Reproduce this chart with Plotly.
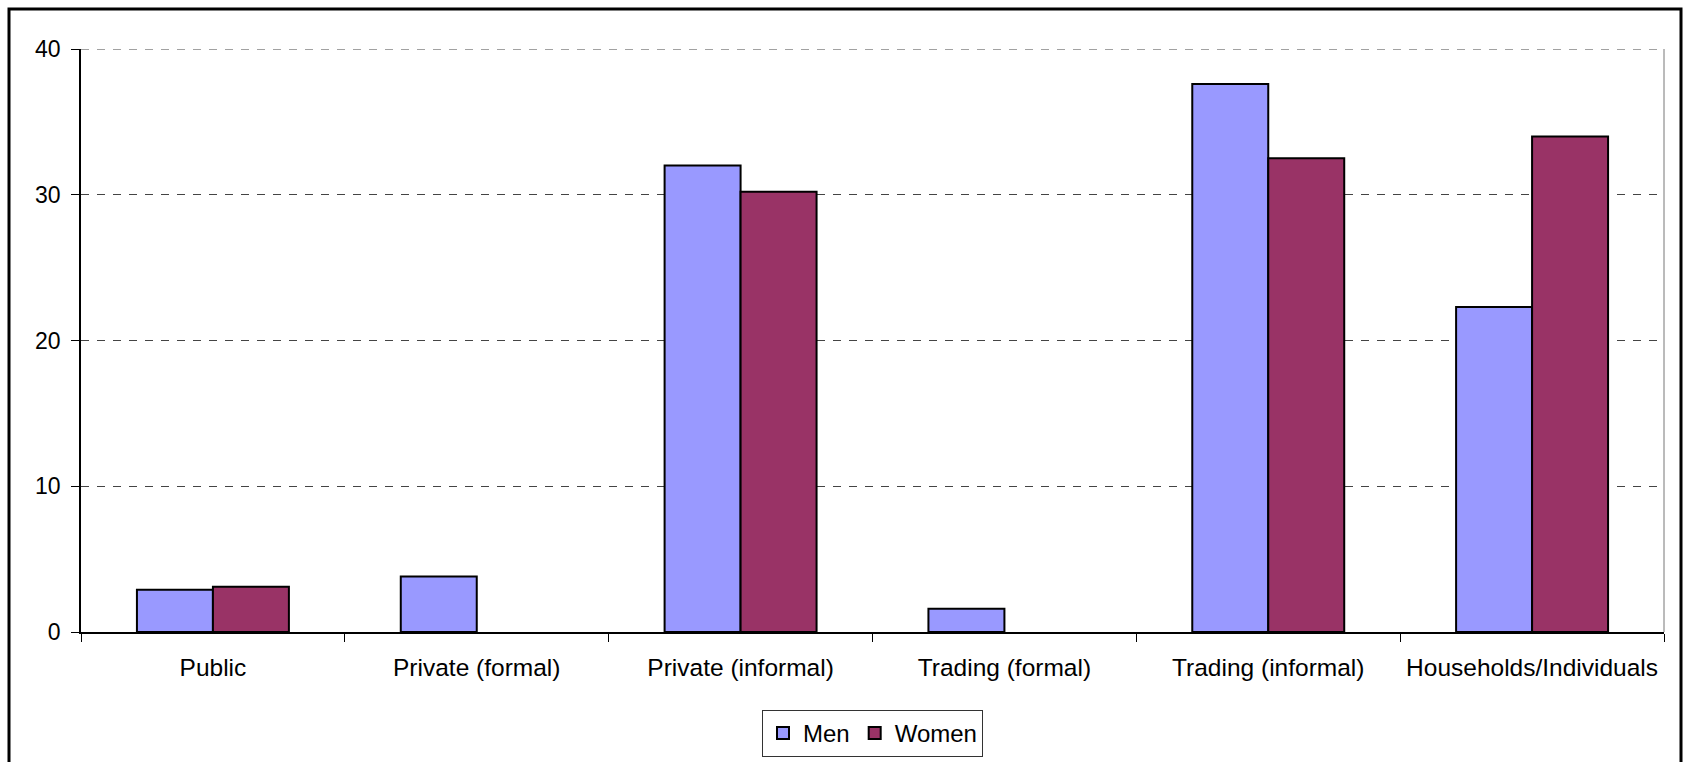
import plotly.graph_objects as go

# Employment sector shares (%) by sex
categories = ["Public", "Private (formal)", "Private (informal)",
              "Trading (formal)", "Trading (informal)", "Households/Individuals"]
men = [2.9, 3.8, 32.0, 1.6, 37.6, 22.3]
women = [3.1, None, 30.2, None, 32.5, 34.0]
y_ticks = [0, 10, 20, 30, 40]

W, H = 1685, 762
L, R, T, B = 81, 21, 49, 130
plot_h = H - T - B
plot_w = W - L - R

def px_x(p):
    return (p - L) / plot_w

def px_y(p):
    return (H - B - p) / plot_h

font_family = "Liberation Sans, Arial, sans-serif"

fig = go.Figure()
fig.add_trace(go.Bar(
    name="Men", x=categories, y=men,
    marker=dict(color="#9999FF", line=dict(color="black", width=2)),
))
fig.add_trace(go.Bar(
    name="Women", x=categories, y=women,
    marker=dict(color="#993366", line=dict(color="black", width=2)),
))

fig.update_layout(
    width=W, height=H,
    margin=dict(l=L, r=R, t=T, b=B, autoexpand=False),
    paper_bgcolor="white", plot_bgcolor="white",
    barmode="group", bargap=0.424, bargroupgap=0,
    font=dict(family=font_family, size=23, color="black"),
    showlegend=True,
    legend=dict(
        orientation="h", x=0.5, xanchor="center",
        yref="container", y=(H - 710) / H, yanchor="top",
        bordercolor="#333333", borderwidth=1,
        font=dict(size=24), itemwidth=30,
        tracegroupgap=0,
    ),
    xaxis=dict(
        type="category", automargin=False, tickangle=0,
        showline=True, linecolor="black", linewidth=1.5,
        ticks="outside", tickson="boundaries", ticklen=8,
        tickcolor="black", tickwidth=1,
        showgrid=False, ticklabelstandoff=13,
        tickfont=dict(size=24.5),
    ),
    yaxis=dict(
        range=[0, 40], tickvals=y_ticks, automargin=False,
        showline=True, linecolor="black", linewidth=1.5,
        ticks="outside", ticklen=8, tickcolor="black", tickwidth=1,
        showgrid=True, gridcolor="#444444", gridwidth=1, griddash="8px,8px",
        zeroline=False, ticklabelstandoff=6,
        tickfont=dict(size=23),
    ),
    shapes=[
        # dashed top gridline at the upper end of the value axis
        dict(type="line", xref="paper", yref="y", x0=0, x1=1,
             y0=y_ticks[-1], y1=y_ticks[-1],
             line=dict(color="#444444", width=1, dash="8px,8px")),
        # thin right edge of the plot area
        dict(type="line", xref="paper", yref="y", x0=1, x1=1,
             y0=y_ticks[0], y1=y_ticks[-1],
             line=dict(color="#777777", width=1)),
        # outer chart frame
        dict(type="rect", xref="paper", yref="paper",
             x0=px_x(9), x1=px_x(1681), y0=px_y(775), y1=px_y(9),
             line=dict(color="black", width=3), fillcolor="rgba(0,0,0,0)"),
    ],
)

fig.write_html("out.html")
